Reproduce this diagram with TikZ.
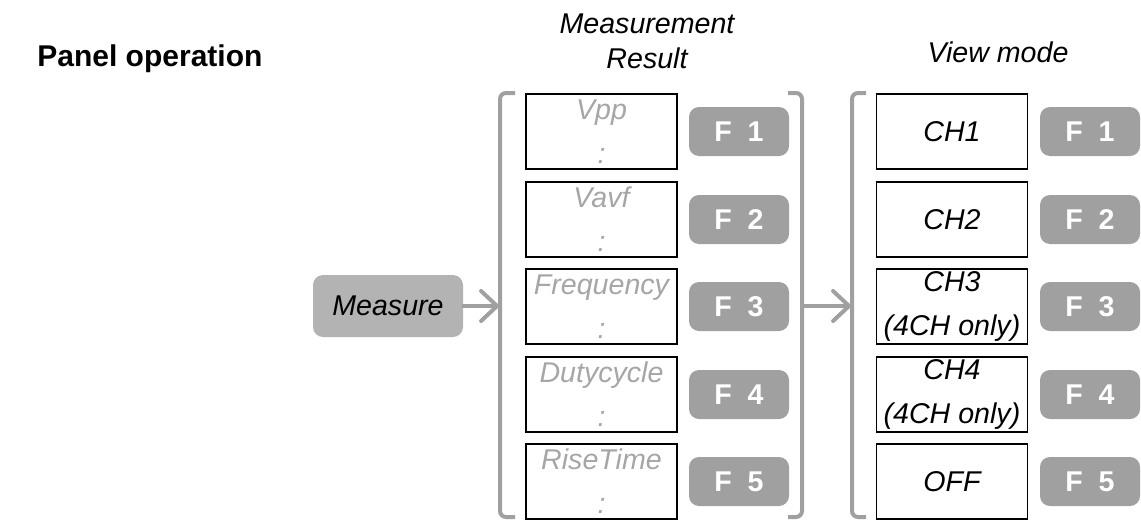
\documentclass[tikz,border=0pt]{standalone}
\usepackage{fontspec}
\setmainfont{Liberation Sans}
\usetikzlibrary{arrows.meta}

\definecolor{keygray}{HTML}{A0A0A0}
\definecolor{softgray}{HTML}{B3B3B3}
\definecolor{dimtext}{HTML}{A6A6A6}

\tikzset{
  resbox/.style={draw=black, line width=0.75pt, minimum width=75.5pt, minimum height=37.5pt,
    inner sep=0pt, align=center, font=\fontsize{14.3}{22}\selectfont\itshape},
  dimbox/.style={resbox, text=dimtext},
  fkey/.style={fill=keygray, rounded corners=5pt, minimum width=50pt, minimum height=24.5pt,
    inner sep=0pt, text=white, font=\fontsize{14.3}{17}\selectfont\bfseries},
  bracket/.style={draw=keygray, line width=2pt, rounded corners=3pt},
  flow/.style={draw=keygray, line width=2pt, line cap=round,
    -{Straight Barb[length=8pt,width=15pt,line cap=round]}},
  title/.style={align=center, font=\fontsize{14.3}{17.5}\selectfont\itshape}
}

\begin{document}
\begin{tikzpicture}[x=0.5pt, y=-0.5pt]
    \useasboundingbox (0,0) rectangle (1141,520);

    % Headings
    \node[anchor=base west, inner sep=0pt, font=\fontsize{15}{18}\selectfont\bfseries] (panel) at (37,66) {Panel operation};
    \node[title] (restitle) at (647,41) {Measurement\\Result};
    \node[title, anchor=base] (viewtitle) at (998,62) {View mode};

    % Entry key
    \node[fill=softgray, rounded corners=5pt, minimum width=75pt, minimum height=31pt,
      inner sep=0pt, font=\fontsize{14.3}{17}\selectfont\itshape] (meas) at (388,306) {Measure};

    % Measurement result column
    \node[dimbox] (res1) at (601.5,131.5) {Vpp\\:};
    \node[dimbox] (res2) at (601.5,219.5) {Vavf\\:};
    \node[dimbox] (res3) at (601.5,306.5) {Frequency\\:};
    \node[dimbox] (res4) at (601.5,394.5) {Dutycycle\\:};
    \node[dimbox] (res5) at (601.5,481.5) {RiseTime\\:};

    \node[fkey] (fa1) at (739,131.5) {F~~1};
    \node[fkey] (fa2) at (739,219.5) {F~~2};
    \node[fkey] (fa3) at (739,306.5) {F~~3};
    \node[fkey] (fa4) at (739,394.5) {F~~4};
    \node[fkey] (fa5) at (739,481.5) {F~~5};

    % View mode column
    \node[resbox] (view1) at (952,131.5) {CH1};
    \node[resbox] (view2) at (952,219.5) {CH2};
    \node[resbox] (view3) at (952,306.5) {CH3\\(4CH only)};
    \node[resbox] (view4) at (952,394.5) {CH4\\(4CH only)};
    \node[resbox] (view5) at (952,481.5) {OFF};

    \node[fkey] (fb1) at (1090,131.5) {F~~1};
    \node[fkey] (fb2) at (1090,219.5) {F~~2};
    \node[fkey] (fb3) at (1090,306.5) {F~~3};
    \node[fkey] (fb4) at (1090,394.5) {F~~4};
    \node[fkey] (fb5) at (1090,481.5) {F~~5};

    % Brackets
    \draw[bracket] (515,93) -- (500,93) -- (500,517) -- (515,517);
    \draw[bracket] (788,93) -- (802,93) -- (802,517) -- (788,517);
    \draw[bracket] (866,93) -- (852,93) -- (852,517) -- (866,517);

    \coordinate (inA) at (500,306);
    \coordinate (outA) at (802,306);
    \coordinate (inB) at (852,306);

    % Arrows
    \draw[flow] (meas) -- (inA);
    \draw[flow] (outA) -- (inB);
\end{tikzpicture}
\end{document}
